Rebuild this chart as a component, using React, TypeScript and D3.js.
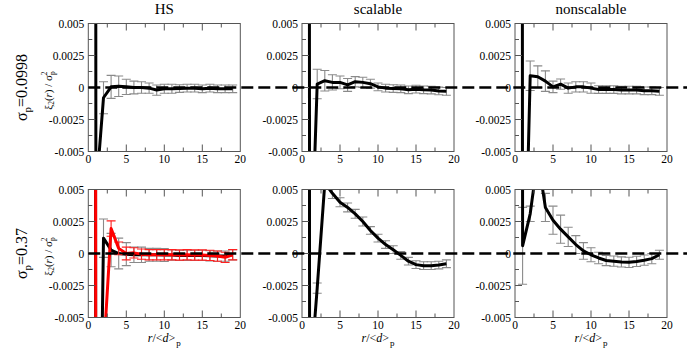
import React from 'react';
import * as d3 from 'd3';

// r / <d>_p bins
const rValues = [0, 1, 2, 3, 4, 5, 6, 7, 8, 9, 10, 11, 12, 13, 14, 15, 16, 17, 18, 19];

// sigma_p = 0.0998
const hsTopValues = [1.0, -0.0084, -0.0008, 0.00005, 0.0001, 0.00005, 0.0, 0.0, -0.00005, -0.0002, -0.0001, -0.0001, -0.00008, -0.00005, -0.00005, -0.0001, -0.00005, -0.0001, -0.0001, -0.0001];
const hsTopErrors = [0, 0.0015, 0.00125, 0.0009, 0.0008, 0.0006, 0.0005, 0.00045, 0.0004, 0.0004, 0.00035, 0.00035, 0.0003, 0.0003, 0.0003, 0.0003, 0.0003, 0.0003, 0.0003, 0.0003];
const scalTopValues = [1.0, -0.0174, 0.00027, 0.00053, 0.0004, 0.0004, 0.0002, 0.00045, 0.0004, 0.0003, 0.00005, -0.00005, -0.00008, -0.0001, -0.00018, -0.00013, -0.00018, -0.0002, -0.00027, -0.0003];
const scalTopErrors = [0, 0.002, 0.00115, 0.0008, 0.0006, 0.0005, 0.0005, 0.0004, 0.0004, 0.00035, 0.0003, 0.0003, 0.0003, 0.0003, 0.0003, 0.0003, 0.0003, 0.0003, 0.0003, 0.0003];
const nonTopValues = [1.0, -0.023, 0.00092, 0.00084, 0.0005, 0.00005, 0.00026, -0.00005, 0.00005, 0.00005, -0.00005, -0.00016, -0.00016, -0.00016, -0.0002, -0.0002, -0.0002, -0.00026, -0.00026, -0.0003];
const nonTopErrors = [0, 0.002, 0.00115, 0.00085, 0.0008, 0.00045, 0.0004, 0.0004, 0.0004, 0.0004, 0.0004, 0.0003, 0.0003, 0.0003, 0.0003, 0.0003, 0.0003, 0.0003, 0.0003, 0.0003];

// sigma_p = 0.37
const hsBotValues = [1.0, -0.04, 0.0012, 0.00027, 0.0, -0.00005, -0.0001, -0.0001, -0.0001, -0.0001, -0.00012, -0.00012, -0.00015, -0.00015, -0.00015, -0.00015, -0.00018, -0.0002, -0.0002, -0.0001];
const hsBotErrors = [0, 0.003, 0.0015, 0.0013, 0.0012, 0.0009, 0.0006, 0.0006, 0.0005, 0.0005, 0.0005, 0.0004, 0.0004, 0.0004, 0.0004, 0.0004, 0.0004, 0.0004, 0.0004, 0.0004];
const hsBotRedValues = [1.0, -0.03, -0.0079, 0.00195, 0.0004, 0.0, 0.00005, -0.00005, -0.0001, -0.0001, -0.0001, -0.0001, -0.00012, -0.0001, -0.00012, -0.00012, -0.00015, -0.0002, -0.0003, -0.0001];
const hsBotRedErrors = [0, 0.004, 0.002, 0.0006, 0.0005, 0.0005, 0.0004, 0.0004, 0.0004, 0.0004, 0.0004, 0.0004, 0.0004, 0.0004, 0.0004, 0.0004, 0.0004, 0.0004, 0.0004, 0.0004];
const scalBotValues = [1.0, -0.0104, -0.0027, 0.0055, 0.0047, 0.004, 0.0036, 0.0031, 0.0025, 0.0018, 0.0012, 0.0007, 0.0003, -0.00015, -0.0006, -0.00087, -0.00095, -0.00095, -0.0009, -0.0008];
const scalBotErrors = [0, 0.003, 0.0004, 0.0004, 0.0004, 0.00035, 0.00035, 0.00035, 0.00035, 0.0003, 0.0003, 0.0003, 0.0003, 0.0003, 0.0003, 0.0003, 0.0003, 0.0003, 0.0003, 0.0003];
const nonBotValues = [1.0, 0.0006, 0.0031, 0.0075, 0.0036, 0.0026, 0.0019, 0.0013, 0.0007, 0.0002, -0.0001, -0.00035, -0.00055, -0.0006, -0.00066, -0.00069, -0.00062, -0.00052, -0.0004, -0.0001];
const nonBotErrors = [0, 0.003, 0.0006, 0.0012, 0.0011, 0.0011, 0.0011, 0.00075, 0.0007, 0.00065, 0.00055, 0.00045, 0.0004, 0.0004, 0.0004, 0.0004, 0.0004, 0.0004, 0.0004, 0.00035];

const columnTitles = ['HS', 'scalable', 'nonscalable'];
const rowSigmas = ['0.0998', '0.37'];
const xMajor = [0, 5, 10, 15, 20];
const xMinor = [2.5, 7.5, 12.5, 17.5];
const yMajor = [0.005, 0.0025, 0, -0.0025, -0.005];
const yMajorLabels = ['0.005', '0.0025', '0', '-0.0025', '-0.005'];
const yMinor = [0.00375, 0.00125, -0.00125, -0.00375];

const FONT = '"Liberation Serif", "Times New Roman", serif';
const PANEL_W = 152;
const PANEL_H = 128;
const colLeft = [88.3, 302, 515];
const rowTop = [23.5, 189.5];
const GREY = '#8a8a8a';
const FRAME = '#555';

type Series = { values: number[]; errors: number[]; color: string; barColor: string };

const panels: { row: number; col: number; series: Series[] }[] = [
  { row: 0, col: 0, series: [{ values: hsTopValues, errors: hsTopErrors, color: '#000', barColor: GREY }] },
  { row: 0, col: 1, series: [{ values: scalTopValues, errors: scalTopErrors, color: '#000', barColor: GREY }] },
  { row: 0, col: 2, series: [{ values: nonTopValues, errors: nonTopErrors, color: '#000', barColor: GREY }] },
  {
    row: 1, col: 0, series: [
      { values: hsBotValues, errors: hsBotErrors, color: '#000', barColor: GREY },
      { values: hsBotRedValues, errors: hsBotRedErrors, color: '#ff0000', barColor: '#ff2020' },
    ],
  },
  { row: 1, col: 1, series: [{ values: scalBotValues, errors: scalBotErrors, color: '#000', barColor: GREY }] },
  { row: 1, col: 2, series: [{ values: nonBotValues, errors: nonBotErrors, color: '#000', barColor: GREY }] },
];

function Panel({ row, col, series }: { row: number; col: number; series: Series[] }) {
  const x0 = colLeft[col];
  const y0 = rowTop[row];
  const xs = d3.scaleLinear().domain([0, 20]).range([x0, x0 + PANEL_W]);
  const ys = d3.scaleLinear().domain([-0.005, 0.005]).range([y0 + PANEL_H, y0]);
  const line = d3.line<number>().x((_, i) => xs(rValues[i])).y((v) => ys(v));
  const clipId = `clip-${row}-${col}`;
  const bottom = y0 + PANEL_H;

  return (
    <g>
      <defs>
        <clipPath id={clipId}>
          <rect x={x0} y={y0} width={PANEL_W} height={PANEL_H} />
        </clipPath>
      </defs>
      <g clipPath={`url(#${clipId})`}>
        {series.map((s, si) => (
          <g key={si}>
            {s.values.map((v, i) => {
              if (i === 0) return null;
              const cx = xs(rValues[i]);
              const yt = ys(v + s.errors[i]);
              const yb = ys(v - s.errors[i]);
              return (
                <g key={i} stroke={s.barColor} strokeWidth={1.1}>
                  <line x1={cx} x2={cx} y1={yt} y2={yb} />
                  <line x1={cx - 4.5} x2={cx + 4.5} y1={yt} y2={yt} />
                  <line x1={cx - 4.5} x2={cx + 4.5} y1={yb} y2={yb} />
                </g>
              );
            })}
            <path d={line(s.values) || ''} fill="none" stroke={s.color} strokeWidth={3} strokeLinejoin="round" />
          </g>
        ))}
      </g>
      {/* frame and ticks */}
      <rect x={x0} y={y0} width={PANEL_W} height={PANEL_H} fill="none" stroke={FRAME} strokeWidth={1} />
      <g stroke={FRAME} strokeWidth={1}>
        {xMajor.slice(1, -1).map((t) => (
          <g key={`xM${t}`}>
            <line x1={xs(t)} x2={xs(t)} y1={bottom} y2={bottom - 7} />
            <line x1={xs(t)} x2={xs(t)} y1={y0} y2={y0 + 7} />
          </g>
        ))}
        {xMinor.map((t) => (
          <g key={`xm${t}`}>
            <line x1={xs(t)} x2={xs(t)} y1={bottom} y2={bottom - 4} />
            <line x1={xs(t)} x2={xs(t)} y1={y0} y2={y0 + 4} />
          </g>
        ))}
        {yMajor.slice(1, -1).map((t) => (
          <line key={`yM${t}`} x1={x0} x2={x0 + 7} y1={ys(t)} y2={ys(t)} />
        ))}
        {yMinor.map((t) => (
          <line key={`ym${t}`} x1={x0} x2={x0 + 4} y1={ys(t)} y2={ys(t)} />
        ))}
      </g>
      {/* tick labels */}
      <g fontFamily={FONT} fontSize={11.5} fill="#000">
        {yMajor.map((t, i) => (
          <text key={`yl${t}`} x={x0 - 4} y={ys(t)} dy="0.35em" textAnchor="end">
            {yMajorLabels[i]}
          </text>
        ))}
        {xMajor.map((t) => (
          <text key={`xl${t}`} x={xs(t)} y={bottom + 11} textAnchor="middle">
            {t}
          </text>
        ))}
      </g>
    </g>
  );
}

export default function App() {
  const width = 687;
  const height = 352;
  return (
    <svg width={width} height={height} style={{ position: 'absolute', left: 0, top: 0, background: '#fff' }}>
      <rect width={width} height={height} fill="#fff" />
      {panels.map((p) => (
        <Panel key={`${p.row}-${p.col}`} row={p.row} col={p.col} series={p.series} />
      ))}

      {/* dashed zero lines across each row */}
      {rowTop.map((y0, ri) => {
        const ys = d3.scaleLinear().domain([-0.005, 0.005]).range([y0 + PANEL_H, y0]);
        return (
          <line key={`zero${ri}`} x1={colLeft[0]} x2={width} y1={ys(0)} y2={ys(0)}
            stroke="#000" strokeWidth={2.5} strokeDasharray="12,5" />
        );
      })}

      {/* column titles */}
      {columnTitles.map((t, ci) => (
        <text key={t} x={colLeft[ci] + PANEL_W / 2} y={14} textAnchor="middle" fontFamily={FONT} fontSize={15}>
          {t}
        </text>
      ))}

      {/* row labels */}
      {rowSigmas.map((s, ri) => (
        <text key={s} transform={`translate(27,${rowTop[ri] + PANEL_H / 2}) rotate(-90)`} textAnchor="middle"
          fontFamily={FONT} fontSize={16}>
          σ<tspan fontSize={11} dy={4}>p</tspan><tspan dy={-4}>={s}</tspan>
        </text>
      ))}

      {/* y axis labels */}
      {rowTop.map((y0, ri) => (
        <text key={`yal${ri}`} transform={`translate(52,${y0 + PANEL_H / 2 + 3}) rotate(-90)`} textAnchor="middle"
          fontFamily={FONT} fontSize={11}>
          ξ<tspan fontSize={7.5} dy={2}>2</tspan>
          <tspan dy={-2}>(</tspan><tspan fontStyle="italic">r</tspan><tspan>) / σ</tspan>
          <tspan fontSize={7.5} dy={3}>p</tspan>
          <tspan fontSize={7.5} dx={-4} dy={-8.5}>2</tspan>
          <tspan dy={5.5}> </tspan>
        </text>
      ))}

      {/* x axis labels */}
      {colLeft.map((x0, ci) => (
        <text key={`xal${ci}`} x={x0 + PANEL_W / 2} y={342} textAnchor="middle" fontFamily={FONT} fontSize={12}>
          <tspan fontStyle="italic">r</tspan>/&lt;<tspan fontStyle="italic">d</tspan>&gt;
          <tspan fontSize={9} dx={1} dy={4}>p</tspan>
        </text>
      ))}
    </svg>
  );
}
